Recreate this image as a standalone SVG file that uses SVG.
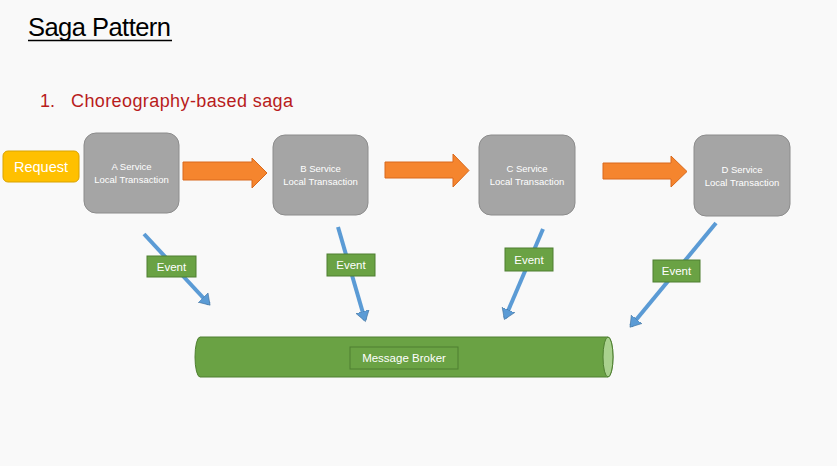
<svg xmlns="http://www.w3.org/2000/svg" width="837" height="466" viewBox="0 0 837 466">
<style>
text{font-family:"Liberation Sans",Arial,sans-serif}
.svc rect{fill:#a5a5a5;stroke:#8c8c8c;stroke-width:1}
.svc text{fill:#fff;font-size:9.5px;text-anchor:middle}
.ev rect{fill:#6aa244;stroke:#4e7f30;stroke-width:1}
.ev text{fill:#fff;font-size:11.5px;text-anchor:middle}
.oarrow{fill:#f5852e;stroke:#d9691c;stroke-width:1}
.barrow{stroke:#5b9bd5;stroke-width:4;fill:none;marker-end:url(#bh)}
</style>
<defs>
<marker id="bh" markerWidth="4" markerHeight="4" refX="2.2" refY="2" orient="auto" markerUnits="strokeWidth">
<path d="M0,0.3 L2.6,2 L0,3.7 Z" fill="#5b9bd5" stroke="#41719c" stroke-width="0.15"/>
</marker>
</defs>
<rect width="837" height="466" fill="#f9f9f9"/>
<g id="title">
<text x="28" y="36" font-size="25.5" fill="#000" textLength="143">Saga Pattern</text>
<line x1="28" y1="40.5" x2="172" y2="40.5" stroke="#000" stroke-width="1.5"/>
</g>
<g id="subtitle">
<text x="40" y="107" font-size="18" fill="#b81c1c">1.</text>
<text x="71" y="107" font-size="18" fill="#b81c1c" textLength="222">Choreography-based saga</text>
</g>
<g id="request">
<rect x="3" y="151" width="76" height="31" rx="5" fill="#ffc000" stroke="#d9a300" stroke-width="1"/>
<text x="41" y="172" font-size="14.5" fill="#fff" text-anchor="middle">Request</text>
</g>
<g id="serviceA" class="svc">
<rect x="84" y="133" width="95" height="80" rx="12"/>
<text x="131.5" y="170">A Service</text>
<text x="131.5" y="183">Local Transaction</text>
</g>
<g id="serviceB" class="svc">
<rect x="273" y="135" width="95" height="80" rx="12"/>
<text x="320.5" y="172">B Service</text>
<text x="320.5" y="185">Local Transaction</text>
</g>
<g id="serviceC" class="svc">
<rect x="479" y="135" width="96" height="80" rx="12"/>
<text x="527" y="172">C Service</text>
<text x="527" y="185">Local Transaction</text>
</g>
<g id="serviceD" class="svc">
<rect x="694" y="135" width="96" height="81" rx="12"/>
<text x="742" y="173">D Service</text>
<text x="742" y="186">Local Transaction</text>
</g>
<g id="broker">
<path d="M200,337 L608,337 A5,20 0 0 1 608,377 L200,377 A5,20 0 0 1 200,337 Z" fill="#6aa244" stroke="#4e7f30" stroke-width="1"/>
<ellipse cx="608" cy="357" rx="5" ry="20" fill="#a9d18e" stroke="#4e7f30" stroke-width="1"/>
<rect x="350" y="347" width="108" height="22" fill="none" stroke="#4e7f30" stroke-width="1"/>
<text x="404" y="362" font-size="11.5" fill="#fff" text-anchor="middle">Message Broker</text>
</g>
<g id="connectors">
<path class="oarrow" d="M183,162 L252,162 L252,158 L267,173 L252,188 L252,180 L183,180 Z"/>
<path class="oarrow" d="M385,162 L453,162 L453,154 L469,170.5 L453,187 L453,178 L385,178 Z"/>
<path class="oarrow" d="M603,163 L671,163 L671,156 L687,171.5 L671,187 L671,179 L603,179 Z"/>
<line class="barrow" x1="144" y1="234" x2="209" y2="304"/>
<line class="barrow" x1="338" y1="227" x2="365" y2="320"/>
<line class="barrow" x1="543" y1="229" x2="505" y2="318"/>
<line class="barrow" x1="716" y1="223" x2="631" y2="326"/>
</g>
<g id="event1" class="ev">
<rect x="147" y="256" width="49" height="21"/>
<text x="171.5" y="270.5">Event</text>
</g>
<g id="event2" class="ev">
<rect x="327" y="254" width="48" height="22"/>
<text x="351" y="269">Event</text>
</g>
<g id="event3" class="ev">
<rect x="505" y="248" width="48" height="23"/>
<text x="529" y="263.5">Event</text>
</g>
<g id="event4" class="ev">
<rect x="653" y="260" width="47" height="22"/>
<text x="676.5" y="275">Event</text>
</g>
</svg>
